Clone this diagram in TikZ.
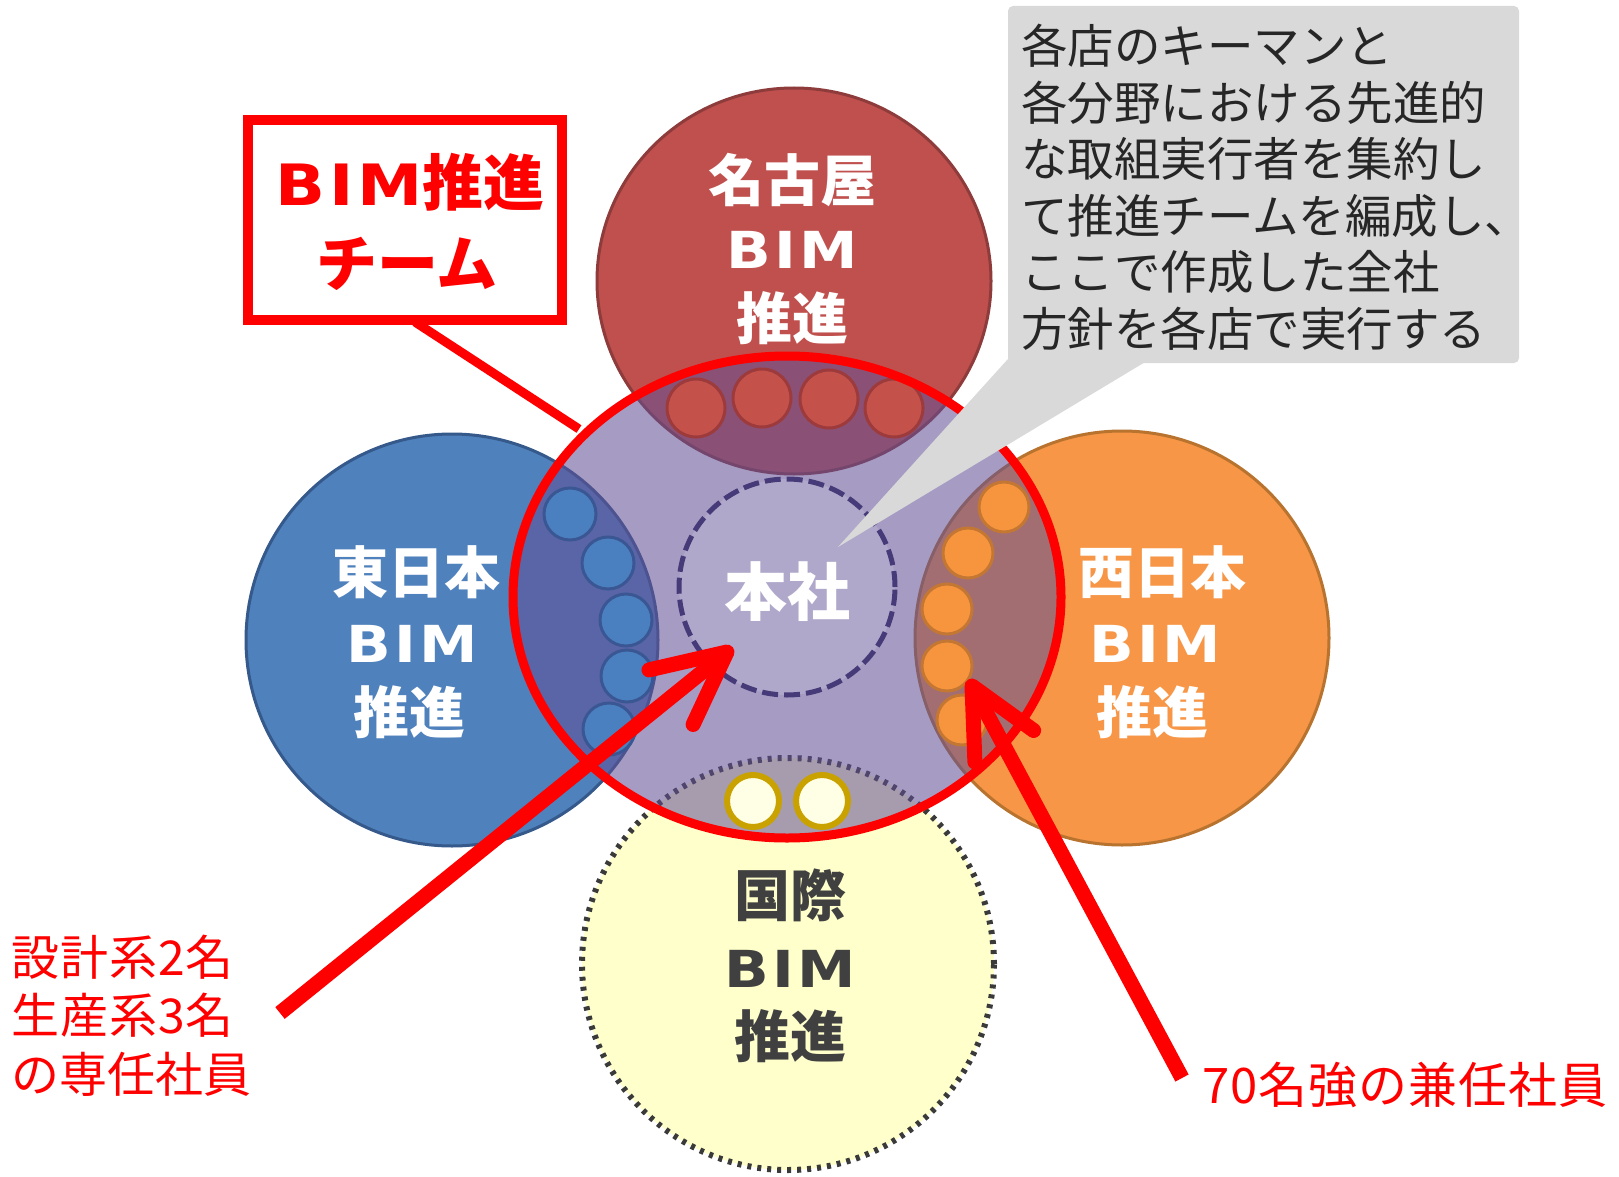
\documentclass[tikz,border=0pt]{standalone}
\usepackage{fontspec}
\usepackage{graphicx}
\newfontfamily\jp{Noto Sans CJK JP}
\newfontfamily\dvs{DejaVu Sans}
\usetikzlibrary{calc}
\definecolor{ngred}{HTML}{C0504D}
\definecolor{ngedge}{HTML}{8E3B3B}
\definecolor{ngsm}{HTML}{C4524B}
\definecolor{ngsmedge}{HTML}{9C3A3C}
\definecolor{ebl}{HTML}{4F81BD}
\definecolor{ebledge}{HTML}{34598A}
\definecolor{eblsm}{HTML}{4A80C0}
\definecolor{eblsmedge}{HTML}{3A5794}
\definecolor{wor}{HTML}{F79646}
\definecolor{woredge}{HTML}{B8732F}
\definecolor{worsm}{HTML}{F7953F}
\definecolor{worsmedge}{HTML}{C47733}
\definecolor{iyel}{HTML}{FFFFCC}
\definecolor{dotc}{HTML}{3A3A3A}
\definecolor{hq}{RGB}{98,80,149}
\definecolor{dashc}{HTML}{463A78}
\definecolor{gold}{HTML}{C9A200}
\definecolor{pale}{HTML}{FFFFE6}
\definecolor{callg}{HTML}{D9D9D9}
\definecolor{txtd}{HTML}{262626}
\definecolor{intl}{HTML}{404040}
\definecolor{alert}{HTML}{FF0000}
\newcommand\bimw[1]{{\dvs\bfseries\fontsize{#1}{#1}\selectfont\addfontfeature{LetterSpace=6}\scalebox{1.15}[1]{BIM}}}
\newcommand\jpb[1]{\jp\bfseries\fontsize{#1}{#1}\selectfont}
\newcommand\jpr[1]{\jp\fontsize{#1}{#1}\selectfont}
\tikzset{
  region/.style={line width=3pt},
  smallc/.style={line width=3pt},
  lab/.style={anchor=base, inner sep=0pt},
  labw/.style={anchor=base west, inner sep=0pt},
  redline/.style={alert, line width=#1},
  arrowhd/.style={alert, line width=15pt, line cap=round, line join=round}
}
\begin{document}
\begin{tikzpicture}[x=1pt,y=-1pt]
\useasboundingbox (0,0) rectangle (1619,1177);
\fill[white] (0,0) rectangle (1619,1177);

% four branch circles
\draw[region, fill=ngred, draw=ngedge] (794,281) ellipse[x radius=197pt, y radius=193pt];
\draw[region, fill=ebl, draw=ebledge] (452,640) circle[radius=206pt];
\draw[region, fill=wor, draw=woredge] (1122,638) circle[radius=207pt];
\draw[line width=6pt, fill=iyel, draw=dotc, dash pattern=on 4pt off 6pt] (788,964) circle[radius=206pt];

% head office overlay
\fill[hq, fill opacity=0.56] (787,597) ellipse[x radius=274pt, y radius=241pt];
\draw[line width=5pt, dashc, dash pattern=on 16pt off 6pt, fill=white, fill opacity=0.12] (787,587) circle[radius=108pt];

% members
\foreach \x/\y in {696/408, 762/398, 829/399, 894/408}
  \draw[smallc, fill=ngsm, draw=ngsmedge] (\x,\y) circle[radius=29pt];
\foreach \x/\y in {570/514, 608/563, 626/620, 627/676, 609/729}
  \draw[smallc, fill=eblsm, draw=eblsmedge] (\x,\y) circle[radius=26pt];
\foreach \x/\y in {1004/507, 968/553, 947/609, 947/666, 962/720}
  \draw[smallc, fill=worsm, draw=worsmedge] (\x,\y) circle[radius=25pt];
\foreach \x/\y in {753/801, 822/801}
  \draw[line width=6pt, fill=pale, draw=gold] (\x,\y) circle[radius=26pt];

% team ring
\draw[redline=9pt] (787,597) ellipse[x radius=274pt, y radius=241pt];

% callout
\node[fill=callg, rounded corners=5pt, minimum width=511pt, minimum height=357pt, inner sep=0pt] (callout) at (1263.5,184.5) {};
\coordinate (ctip) at (838,547);
\fill[callg] ([yshift=4pt]callout.south west) -- ([xshift=142pt,yshift=4pt]callout.south west) -- (ctip) -- cycle;
\foreach \t [count=\i] in {各店のキーマンと, 各分野における先進的, な取組実行者を集約し, て推進チームを編成し、, ここで作成した全社, 方針を各店で実行する}
  \node[labw, text=txtd, font=\jpr{46.5}] (cl\i) at (1021,{64+56.4*(\i-1)}) {\t};

% team label box
\coordinate (teamtop) at (415,322);
\coordinate (teamend) at (579,429);
\draw[redline=9pt] (teamtop) -- (teamend);
\node[draw=alert, line width=10pt, fill=white, minimum width=314pt, minimum height=200pt, inner sep=0pt] (team) at (405,220) {};
\node[lab, text=alert] (teamA) at (410,205) {\bimw{57}{\jpb{61}推進}};
\node[lab, text=alert, font=\jpb{61}] (teamB) at (407,286) {チーム};

% circle labels
\node[lab, text=white, font=\jpb{56}] (ng1) at (792,202) {名古屋};
\node[lab, text=white] (ng2) at (792,268) {\bimw{51}};
\node[lab, text=white, font=\jpb{56}] (ng3) at (792,339) {推進};
\node[lab, text=white, font=\jpb{56}] (ej1) at (416,593) {東日本};
\node[lab, text=white] (ej2) at (412,662) {\bimw{51}};
\node[lab, text=white, font=\jpb{56}] (ej3) at (409,733) {推進};
\node[lab, text=white, font=\jpb{56}] (wj1) at (1162,593) {西日本};
\node[lab, text=white] (wj2) at (1155,662) {\bimw{51}};
\node[lab, text=white, font=\jpb{56}] (wj3) at (1152,733) {推進};
\node[lab, text=intl, font=\jpb{56}] (in1) at (790,916) {国際};
\node[lab, text=intl] (in2) at (790,987) {\bimw{51}};
\node[lab, text=intl, font=\jpb{56}] (in3) at (790,1057) {推進};
\node[lab, text=white, font=\jpb{63}] (hq) at (787,615) {本社};

% arrows
\coordinate (la0) at (280,1013);
\coordinate (la1) at (727,652);
\draw[redline=15pt, shorten >=6pt] (la0) -- (la1);
\draw[arrowhd] ($(la1)!80pt!26:(la0)$) -- (la1) -- ($(la1)!80pt!-26:(la0)$);
\coordinate (ra0) at (1182,1078);
\coordinate (ra1) at (972,686);
\draw[redline=15pt, shorten >=6pt] (ra0) -- (ra1);
\draw[arrowhd] ($(ra1)!76pt!26:(ra0)$) -- (ra1) -- ($(ra1)!76pt!-26:(ra0)$);

% red notes
\node[labw, text=alert, font=\jpr{48}\addfontfeature{LetterSpace=2}] (dl1) at (11,975) {設計系2名};
\node[labw, text=alert, font=\jpr{48}\addfontfeature{LetterSpace=2}] (dl2) at (11,1033) {生産系3名};
\node[labw, text=alert, font=\jpr{48}] (dl3) at (11,1092) {の専任社員};
\node[labw, text=alert, font=\jpr{49}\addfontfeature{LetterSpace=2}] (cn1) at (1202,1103) {70名強の兼任社員};
\end{tikzpicture}
\end{document}
